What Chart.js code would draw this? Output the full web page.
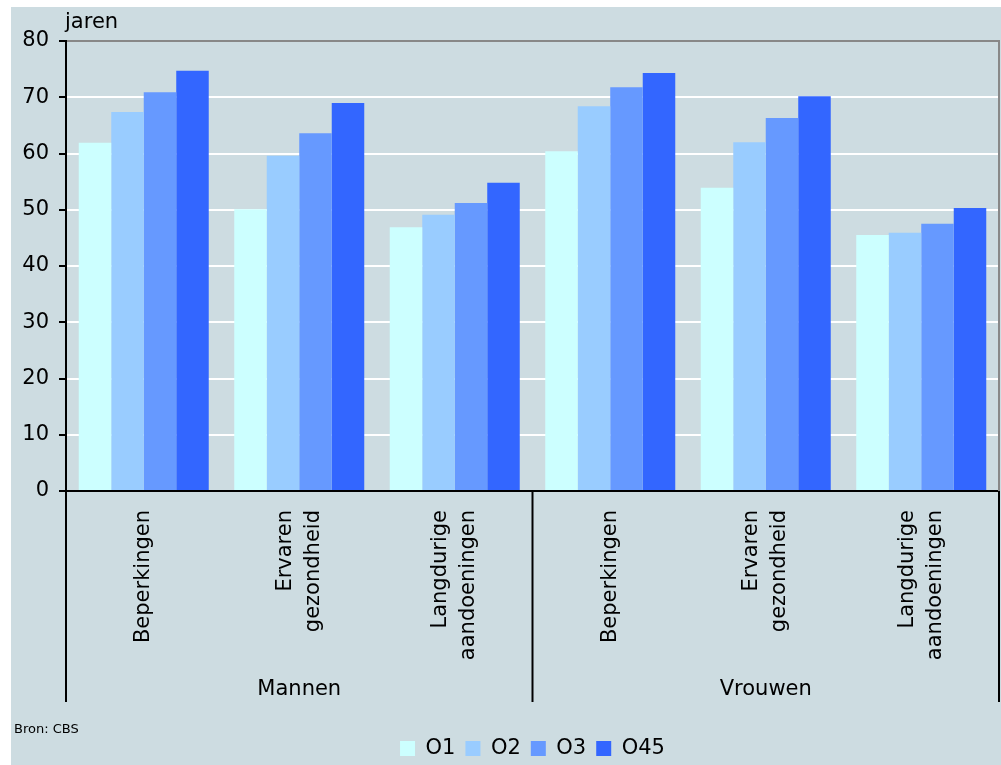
<!DOCTYPE html>
<html>
<head>
<meta charset="utf-8">
<script src="https://cdn.jsdelivr.net/npm/chart.js@4"></script>
<style>
  html, body { margin: 0; padding: 0; background: #ffffff; }
  #panel { position: absolute; left: 11px; top: 7px; width: 990px; height: 758px; background: #cddce1; }
  canvas { display: block; }
</style>
</head>
<body>
<div id="panel"><canvas id="chart" width="990" height="758"></canvas></div>
<script>
// Gezonde levensverwachting naar opleidingsniveau (jaren)
const categories = [
  ['Beperkingen'], ['Ervaren', 'gezondheid'], ['Langdurige', 'aandoeningen'],
  ['Beperkingen'], ['Ervaren', 'gezondheid'], ['Langdurige', 'aandoeningen']
];
const groups = ['Mannen', 'Vrouwen'];
const seriesNames = ['O1', 'O2', 'O3', 'O45'];
const o1 = [61.9, 50.1, 46.9, 60.4, 53.9, 45.5];
const o2 = [67.4, 59.6, 49.1, 68.4, 62.0, 45.9];
const o3 = [70.9, 63.6, 51.2, 71.8, 66.3, 47.5];
const o45 = [74.7, 69.0, 54.8, 74.3, 70.2, 50.3];
const yTicks = [0, 10, 20, 30, 40, 50, 60, 70, 80];
const unitLabel = 'jaren';
const sourceNote = 'Bron: CBS';

const colors = ['#ccffff', '#99ccff', '#6699ff', '#3366ff'];
const FONT = 'DejaVu Sans';

const decorations = {
  id: 'decorations',
  afterDraw(chart) {
    const { ctx, chartArea, scales } = chart;
    const x = scales.x, y = scales.y;
    ctx.save();
    // right frame line
    ctx.strokeStyle = '#888888';
    ctx.lineWidth = 2;
    ctx.beginPath();
    ctx.moveTo(chartArea.right, chartArea.top - 1);
    ctx.lineTo(chartArea.right, chartArea.bottom);
    ctx.stroke();
    // group separators under the axis
    const sepBottom = scales.x2.bottom - 26;
    ctx.strokeStyle = '#000000';
    [x.left, x.getPixelForValue(2.5), x.right].forEach(px => {
      ctx.beginPath();
      ctx.moveTo(px, chartArea.bottom);
      ctx.lineTo(px, sepBottom);
      ctx.stroke();
    });
    // rotated category labels
    ctx.fillStyle = '#000000';
    ctx.font = '21px "' + FONT + '"';
    ctx.textAlign = 'right';
    ctx.textBaseline = 'middle';
    const lh = 28;
    categories.forEach((lines, i) => {
      const cx = x.getPixelForValue(i);
      lines.forEach((t, j) => {
        const off = (j - (lines.length - 1) / 2) * lh;
        ctx.save();
        ctx.translate(cx + off, chartArea.bottom + 19);
        ctx.rotate(-Math.PI / 2);
        ctx.fillText(t, 0, 0);
        ctx.restore();
      });
    });
    // unit and source
    ctx.textAlign = 'left';
    ctx.textBaseline = 'alphabetic';
    ctx.fillText(unitLabel, y.right - 1, 21);
    ctx.font = '13px "' + FONT + '"';
    ctx.fillText(sourceNote, 3, 726);
    ctx.restore();
  }
};

new Chart(document.getElementById('chart'), {
  type: 'bar',
  data: {
    labels: categories,
    datasets: [o1, o2, o3, o45].map((d, i) => ({
      label: seriesNames[i],
      data: d,
      backgroundColor: colors[i],
      borderWidth: 0,
      categoryPercentage: 0.836,
      barPercentage: 1.0,
      xAxisID: 'x'
    }))
  },
  options: {
    responsive: false,
    devicePixelRatio: 1,
    animation: false,
    layout: { padding: { left: 0, right: 2, top: 34, bottom: -4 } },
    scales: {
      x: {
        type: 'category',
        position: 'bottom',
        weight: 0,
        grid: { display: false },
        border: { display: true, color: '#000000', width: 2 },
        ticks: { display: false },
        afterFit(s) { s.height = 177; }
      },
      x2: {
        type: 'category',
        labels: groups,
        position: 'bottom',
        weight: 1,
        offset: true,
        grid: { display: false, drawTicks: false },
        border: { display: false },
        ticks: { color: '#000000', font: { family: FONT, size: 21 }, padding: 9, maxRotation: 0 },
        afterFit(s) { s.height = 60; }
      },
      y: {
        min: 0,
        max: 80,
        afterBuildTicks(s) { s.ticks = yTicks.map(v => ({ value: v })); },
        grid: {
          color: c => (c.tick && c.tick.value === 80 ? '#888888' : '#ffffff'),
          lineWidth: 2,
          tickColor: '#000000',
          tickLength: 7,
          tickWidth: 2
        },
        border: { display: true, color: '#000000', width: 2 },
        ticks: { color: '#000000', font: { family: FONT, size: 21 }, padding: 10 },
        afterFit(s) { s.width = 55; }
      }
    },
    plugins: {
      legend: {
        position: 'bottom',
        fullSize: false,
        labels: {
          boxWidth: 15,
          boxHeight: 15,
          padding: 10,
          color: '#000000',
          font: { family: FONT, size: 21 }
        }
      },
      title: { display: false },
      tooltip: { enabled: false }
    }
  },
  plugins: [decorations]
});
</script>
</body>
</html>
